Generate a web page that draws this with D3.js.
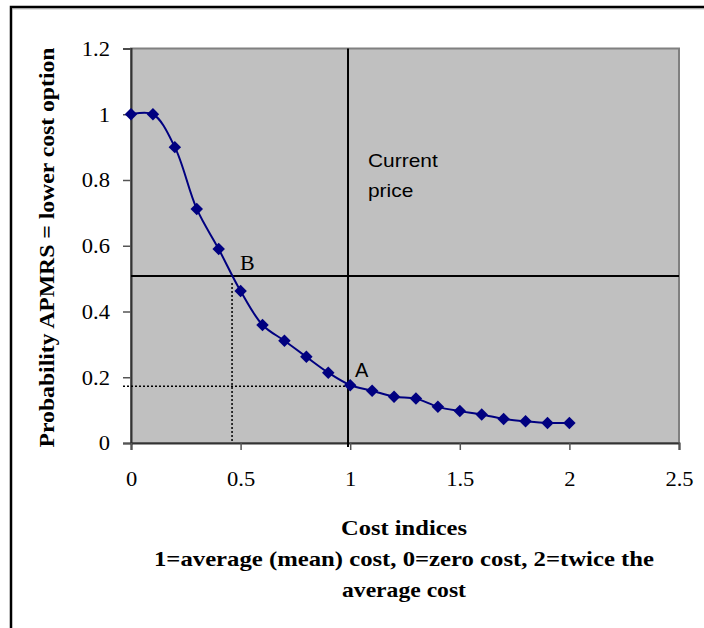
<!DOCTYPE html>
<html><head><meta charset="utf-8">
<script src="https://cdn.jsdelivr.net/npm/d3@7"></script>
<style>
html,body{margin:0;padding:0;background:#fff;}
svg{display:block;}
</style></head>
<body>
<svg id="chart" width="704" height="628"></svg>
<script>
// ---- data ----
const costIndex = [0,0.1,0.2,0.3,0.4,0.5,0.6,0.7,0.8,0.9,1.0,1.1,1.2,1.3,1.4,1.5,1.6,1.7,1.8,1.9,2.0];
const probability = [1.0,1.0,0.90,0.712,0.59,0.462,0.359,0.311,0.262,0.214,0.176,0.159,0.141,0.135,0.110,0.097,0.087,0.073,0.066,0.061,0.061];
const xTicks = [0,0.5,1,1.5,2,2.5];
const yTicks = [0,0.2,0.4,0.6,0.8,1,1.2];
const currentPriceX = [0.99];
const thresholdY = [0.508];
const pointB = [0.461, 0.487];   // dotted drop from curve at B
const pointA = [0.99, 0.173];    // dotted level at A
const yTitle = "Probability APMRS = lower cost option";
const xTitleLines = ["Cost indices","1=average (mean) cost, 0=zero cost, 2=twice the","average cost"];

const svg = d3.select("#chart");
const x = d3.scaleLinear().domain([0,2.5]).range([131,679]);
const y = d3.scaleLinear().domain([0,1.2]).range([443,48.5]);

function stretch(sel, k){
  sel.each(function(){
    const L = this.getComputedTextLength();
    d3.select(this).attr("textLength", L*k).attr("lengthAdjust","spacingAndGlyphs");
  });
}
function fitTo(sel, w){ sel.attr("textLength", w).attr("lengthAdjust","spacingAndGlyphs"); }

// outer frame
svg.append("rect").attr("x",11).attr("y",7).attr("width",760).attr("height",700)
  .attr("fill","none").attr("stroke","#000").attr("stroke-width",2.5);
svg.append("line").attr("x1",12).attr("x2",704).attr("y1",8.8).attr("y2",8.8)
  .attr("stroke","#999").attr("stroke-width",1);

// plot area
svg.append("rect").attr("x",x(0)).attr("y",y(1.2)).attr("width",x(2.5)-x(0)).attr("height",y(0)-y(1.2))
  .attr("fill","#c0c0c0").attr("stroke","#808080").attr("stroke-width",2);

// axes
const serif = "'Liberation Serif','Times New Roman',serif";
const yAxis = svg.append("g").attr("transform",`translate(${x(0)},0)`)
  .call(d3.axisLeft(y).tickValues(yTicks).tickSize(8).tickPadding(13).tickFormat(d3.format("~g")));
const xAxis = svg.append("g").attr("transform",`translate(0,${y(0)})`)
  .call(d3.axisBottom(x).tickValues(xTicks).tickSize(7).tickFormat(d3.format("~g")));
[yAxis,xAxis].forEach(g=>{
  g.select(".domain").attr("stroke","#333").attr("stroke-width",2);
  g.selectAll(".tick line").attr("stroke","#555").attr("stroke-width",1.5);
  g.selectAll("text").attr("font-family",serif).attr("font-size",20.5).attr("fill","#000");
});
yAxis.selectAll("text").attr("dy","0.33em");
xAxis.selectAll("text").attr("y",43).attr("dy",null);
stretch(yAxis.selectAll("text"),1.1);
stretch(xAxis.selectAll("text"),1.1);

// reference lines
svg.append("line").attr("x1",x(0)).attr("x2",x(2.5)).attr("y1",y(thresholdY[0])).attr("y2",y(thresholdY[0]))
  .attr("stroke","#000").attr("stroke-width",2);
svg.append("line").attr("x1",x(currentPriceX[0])).attr("x2",x(currentPriceX[0])).attr("y1",y(1.2)).attr("y2",y(0)+4)
  .attr("stroke","#000").attr("stroke-width",2);
// dotted lines
svg.append("line").attr("x1",x(pointB[0])).attr("x2",x(pointB[0])).attr("y1",y(pointB[1])).attr("y2",y(0))
  .attr("stroke","#000").attr("stroke-width",1.5).attr("stroke-dasharray","2,2");
svg.append("line").attr("x1",x(0)-8).attr("x2",x(pointA[0])).attr("y1",y(pointA[1])).attr("y2",y(pointA[1]))
  .attr("stroke","#000").attr("stroke-width",1.5).attr("stroke-dasharray","2,2");

// curve
const data = costIndex.map((c,i)=>({c, p:probability[i]}));
svg.append("path").datum(data)
  .attr("d", d3.line().x(d=>x(d.c)).y(d=>y(d.p)).curve(d3.curveCatmullRom.alpha(0.5)))
  .attr("fill","none").attr("stroke","#000080").attr("stroke-width",2);
svg.append("g").selectAll("path").data(data).join("path")
  .attr("d", d3.symbol(d3.symbolSquare, 78))
  .attr("transform", d=>`translate(${x(d.c)},${y(d.p)}) rotate(45)`)
  .attr("fill","#000080");

// annotations
const sans = "'Liberation Sans',Arial,sans-serif";
const cp = svg.append("g");
stretch(cp.append("text").attr("x",368).attr("y",167).attr("font-family",sans).attr("font-size",19).text("Current"),1.1);
stretch(cp.append("text").attr("x",368).attr("y",197).attr("font-family",sans).attr("font-size",19).text("price"),1.1);
stretch(svg.append("text").attr("x",355).attr("y",377).attr("font-family",sans).attr("font-size",20).text("A"),1.0);
stretch(svg.append("text").attr("x",240).attr("y",270).attr("font-family",serif).attr("font-size",22).text("B"),1.0);

// axis titles
fitTo(svg.append("text").attr("transform","translate(54,247.5) rotate(-90)").attr("text-anchor","middle")
  .attr("font-family",serif).attr("font-weight","bold").attr("font-size",22).text(yTitle), 400);
const tw = [126,500,124];
const tb = [535,566,597];
xTitleLines.forEach((t,i)=>{
  fitTo(svg.append("text").attr("x",404).attr("y",tb[i]).attr("text-anchor","middle")
    .attr("font-family",serif).attr("font-weight","bold").attr("font-size",22).text(t), tw[i]);
});
</script>
</body></html>
